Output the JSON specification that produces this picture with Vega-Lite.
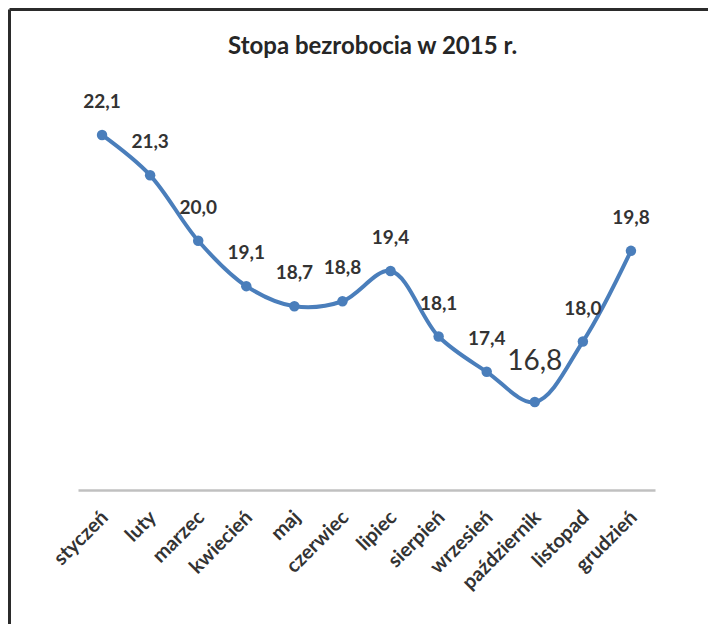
{
  "$schema": "https://vega.github.io/schema/vega-lite/v6.json",
  "width": 699,
  "height": 615,
  "autosize": {"type": "none"},
  "padding": {"left": 9, "top": 9, "right": 0, "bottom": 0},
  "background": "white",
  "config": {
    "view": {"stroke": null},
    "font": "Lato",
    "locale": {"number": {"decimal": ",", "thousands": " ", "grouping": [3], "currency": ["", " zł"]}}
  },
  "title": {"text": "Stopa bezrobocia w 2015 r.", "fontSize": 24, "font": "Lato", "fontWeight": "bold", "color": "#262626", "anchor": "start", "frame": "group", "offset": -50, "dx": 219},
  "data": {"values": [
    {"miesiac": "styczeń", "stopa": 22.1},
    {"miesiac": "luty", "stopa": 21.3},
    {"miesiac": "marzec", "stopa": 20.0},
    {"miesiac": "kwiecień", "stopa": 19.1},
    {"miesiac": "maj", "stopa": 18.7},
    {"miesiac": "czerwiec", "stopa": 18.8},
    {"miesiac": "lipiec", "stopa": 19.4},
    {"miesiac": "sierpień", "stopa": 18.1},
    {"miesiac": "wrzesień", "stopa": 17.4},
    {"miesiac": "październik", "stopa": 16.8},
    {"miesiac": "listopad", "stopa": 18.0},
    {"miesiac": "grudzień", "stopa": 19.8}
  ]},
  "encoding": {
    "y": {
      "field": "stopa", "type": "quantitative",
      "scale": {"domain": [12.395, 24.6], "nice": false, "zero": false},
      "axis": {"orient": "left", "title": null, "labels": false, "ticks": false, "grid": false, "domain": true, "domainColor": "#2b2b2b", "domainWidth": 3}
    }
  },
  "layer": [
    {
      "encoding": {
        "x": {
          "field": "miesiac", "type": "ordinal", "sort": null,
          "scale": {"type": "band", "range": [69, 646], "paddingInner": 0, "paddingOuter": 0},
          "axis": {"orient": "bottom", "title": null, "labelAngle": -45, "labelAlign": "right", "labelBaseline": "middle", "ticks": false, "labelPadding": 24, "labelOffset": 3, "domainColor": "#c0c0c0", "domainWidth": 2.5, "offset": -134, "labelFontSize": 20, "labelFont": "Lato", "labelFontWeight": "bold", "labelColor": "#333333", "grid": false}
        }
      },
      "layer": [
        {"mark": {"type": "line", "interpolate": "catmull-rom", "color": "#4a7ebb", "strokeWidth": 4}},
        {"mark": {"type": "point", "filled": true, "size": 110, "color": "#4a7ebb", "opacity": 1}},
        {
          "transform": [{"filter": "datum.miesiac != 'październik'"}],
          "mark": {"type": "text", "dy": -33, "fontSize": 19, "color": "#333333", "fontWeight": "bold"},
          "encoding": {"text": {"field": "stopa", "type": "quantitative", "format": ".1f"}}
        },
        {
          "transform": [{"filter": "datum.miesiac == 'październik'"}],
          "mark": {"type": "text", "dy": -40, "dx": 0, "fontSize": 28, "color": "#333333"},
          "encoding": {"text": {"field": "stopa", "type": "quantitative", "format": ".1f"}}
        }
      ]
    },
    {
      "mark": {"type": "point", "opacity": 0},
      "encoding": {
        "x": {"field": "stopa", "type": "quantitative", "scale": {"zero": false, "nice": false}, "axis": {"orient": "top", "title": null, "labels": false, "ticks": false, "grid": false, "domain": true, "domainColor": "#2b2b2b", "domainWidth": 3}}
      }
    }
  ],
  "resolve": {"scale": {"x": "independent"}, "axis": {"x": "independent"}}
}
